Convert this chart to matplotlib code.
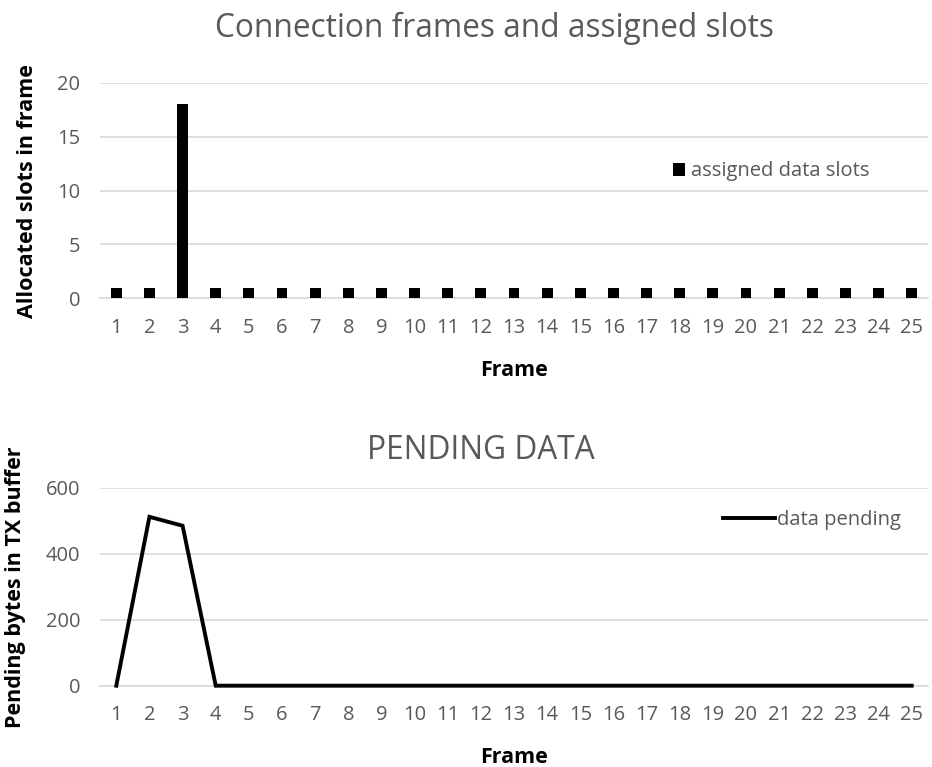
import matplotlib
matplotlib.use("Agg")
import matplotlib.pyplot as plt
import numpy as np

plt.rcParams['font.family'] = ['Open Sans', 'DejaVu Sans']

frames = [str(i) for i in range(1, 26)]
assigned_slots = [1, 1, 18] + [1] * 22
pending_bytes = [0, 512, 485] + [0] * 22

grey = '#595959'
gridc = '#d9d9d9'

fig = plt.figure(figsize=(9.32, 7.67), dpi=100)
ax1 = fig.add_axes([0.107, 0.611, 0.889, 0.281])
ax2 = fig.add_axes([0.107, 0.106, 0.889, 0.258])

x = np.arange(1, len(frames) + 1)

def style(ax):
    for s in ['top', 'right', 'left']:
        ax.spines[s].set_visible(False)
    ax.spines['bottom'].set_color(gridc)
    ax.spines['bottom'].set_linewidth(1.2)
    ax.yaxis.grid(True, color=gridc, linewidth=1.2)
    ax.set_axisbelow(True)
    ax.tick_params(axis='both', length=0, colors=grey, labelsize=14.5)
    ax.tick_params(axis='x', pad=14)
    ax.tick_params(axis='y', pad=14)
    ax.set_xticks(x)
    ax.set_xticklabels(frames)
    ax.set_xlim(0.5, len(frames) + 0.5)

ax1.bar(x, assigned_slots, width=0.33, color='black', label='assigned data slots', zorder=3)
style(ax1)
ax1.set_ylim(0, 20)
ax1.set_yticks([0, 5, 10, 15, 20])
ax1.set_title('Connection frames and assigned slots', color=grey, fontsize=22.8, pad=33, x=0.476)
ax1.set_xlabel('Frame', fontweight='bold', fontsize=15.5, labelpad=16)
ax1.set_ylabel('Allocated slots in frame', fontweight='bold', fontsize=15.5, labelpad=14)
ax1.legend(loc='upper left', bbox_to_anchor=(0.67, 0.72), frameon=False, fontsize=14.5,
           labelcolor=grey, handlelength=0.6, handleheight=0.6, handletextpad=0.3)

ax2.plot(x, pending_bytes, color='black', linewidth=2.8, label='data pending',
         clip_on=False, zorder=3, solid_joinstyle='miter')
style(ax2)
ax2.set_ylim(0, 600)
ax2.set_yticks([0, 200, 400, 600])
ax2.set_title('PENDING DATA', color=grey, fontsize=22.8, pad=21, x=0.46)
ax2.set_xlabel('Frame', fontweight='bold', fontsize=15.5, labelpad=16)
ax2.set_ylabel('Pending bytes in TX buffer', fontweight='bold', fontsize=15.5, labelpad=14)
ax2.legend(loc='upper left', bbox_to_anchor=(0.73, 0.98), frameon=False, fontsize=14.5,
           labelcolor=grey, handlelength=2.6, handletextpad=0.1)

fig.savefig('out.png', dpi=100)
